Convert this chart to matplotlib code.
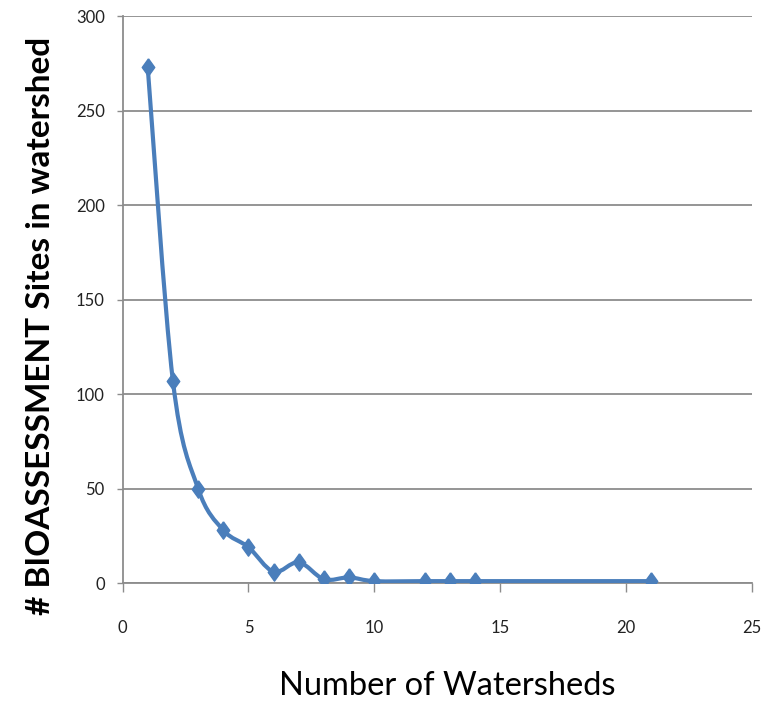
import numpy as np
import matplotlib.pyplot as plt
from matplotlib.path import Path
from matplotlib.patches import PathPatch

watersheds = [1, 2, 3, 4, 5, 6, 7, 8, 9, 10, 12, 13, 14, 21]
sites = [273, 107, 50, 28, 19, 6, 11, 2, 3, 1, 1, 1, 1, 1]

x_ticks = [0, 5, 10, 15, 20, 25]
y_ticks = [0, 50, 100, 150, 200, 250, 300]

LINE_COLOR = "#4A7EBB"
GRID_COLOR = "#8C8C8C"

plt.rcParams["font.family"] = ["Lato", "DejaVu Sans"]


def smooth_path(xs, ys):
    # spreadsheet-style smoothed line: cubic Bezier through every point
    pts = np.column_stack([xs, ys]).astype(float)
    verts = [pts[0]]
    codes = [Path.MOVETO]
    n = len(pts)
    for i in range(n - 1):
        p0 = pts[max(i - 1, 0)]
        p1 = pts[i]
        p2 = pts[i + 1]
        p3 = pts[min(i + 2, n - 1)]
        c1 = p1 + (p2 - p0) / 6.0
        c2 = p2 - (p3 - p1) / 6.0
        verts += [c1, c2, p2]
        codes += [Path.CURVE4] * 3
    return Path(verts, codes)


fig = plt.figure(figsize=(7.73, 7.05), dpi=100)
ax = fig.add_axes([0.1585, 0.1730, 0.8144, 0.8043])

ax.add_patch(PathPatch(smooth_path(watersheds, sites), facecolor="none",
                       edgecolor=LINE_COLOR, linewidth=3, zorder=3,
                       capstyle="round", joinstyle="round"))

diamond = [(0, 1), (0.72, 0), (0, -1), (-0.72, 0), (0, 1)]
ax.plot(watersheds, sites, linestyle="none", marker=diamond, markersize=12.5,
        color=LINE_COLOR, zorder=4)

ax.set_xlim(0, 25)
ax.set_ylim(0, 300)
ax.set_xticks(x_ticks)
ax.set_yticks(y_ticks)
ax.yaxis.grid(True, color=GRID_COLOR, linewidth=1.3)
ax.set_axisbelow(True)

for side in ["top", "right"]:
    ax.spines[side].set_visible(False)
for side in ["left", "bottom"]:
    ax.spines[side].set_color(GRID_COLOR)
    ax.spines[side].set_linewidth(1.3)

ax.tick_params(axis="both", direction="out", width=1, color=GRID_COLOR,
               labelsize=12, labelcolor="#222222")
ax.tick_params(axis="x", length=6.5, pad=20)
ax.tick_params(axis="y", length=4.3, pad=8.5)

fig.text(0.578, 0.006, "Number of Watersheds", fontsize=23.5,
         ha="center", va="bottom")
fig.text(0.052, 0.537, "# BIOASSESSMENT Sites in watershed", fontsize=24,
         fontweight="bold", rotation=90, ha="center", va="center")

fig.savefig("out.png", dpi=100)
